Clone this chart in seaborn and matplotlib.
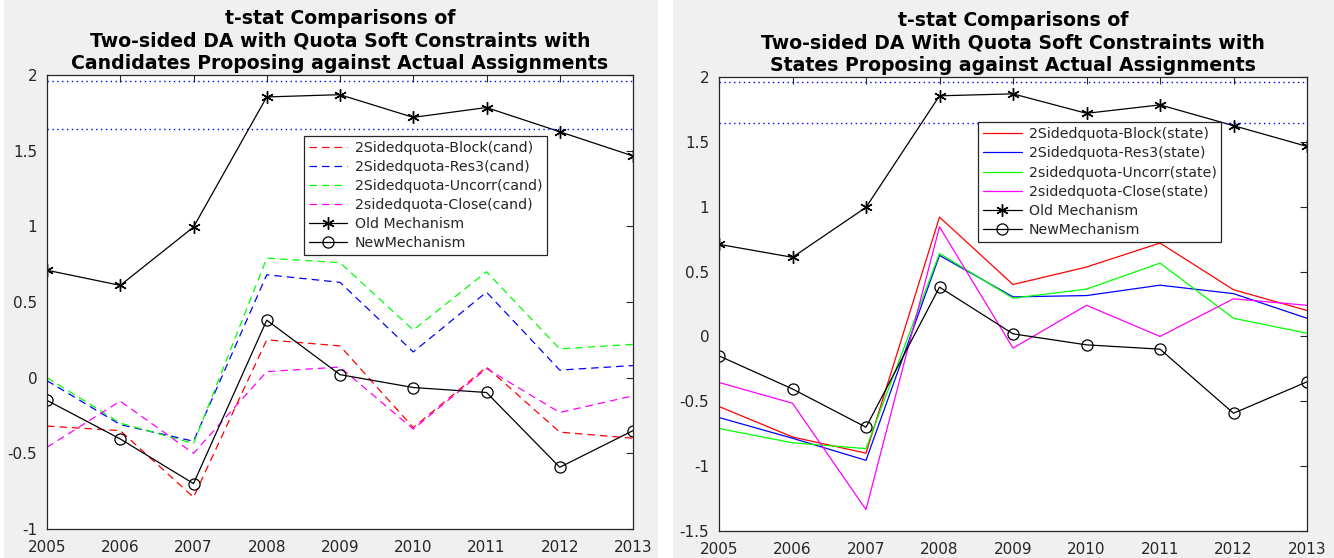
import matplotlib
matplotlib.use('Agg')
import matplotlib.pyplot as plt
from matplotlib.patches import Rectangle
from matplotlib.ticker import FormatStrFormatter
import seaborn as sns

# %% data
years = [2005, 2006, 2007, 2008, 2009, 2010, 2011, 2012, 2013]
old_mech = [0.71, 0.61, 0.995, 1.855, 1.87, 1.72, 1.785, 1.625, 1.465]
new_mech = [-0.15, -0.405, -0.70, 0.38, 0.02, -0.065, -0.098, -0.592, -0.35]

cand_block = [-0.32, -0.35, -0.79, 0.25, 0.21, -0.33, 0.07, -0.36, -0.40]
cand_res3 = [-0.02, -0.31, -0.42, 0.68, 0.63, 0.17, 0.565, 0.05, 0.08]
cand_uncorr = [0.0, -0.30, -0.435, 0.79, 0.76, 0.315, 0.70, 0.19, 0.22]
cand_close = [-0.46, -0.155, -0.50, 0.04, 0.07, -0.34, 0.06, -0.23, -0.12]

state_block = [-0.54, -0.775, -0.90, 0.92, 0.40, 0.535, 0.72, 0.36, 0.20]
state_res3 = [-0.625, -0.785, -0.955, 0.625, 0.305, 0.315, 0.395, 0.33, 0.14]
state_uncorr = [-0.71, -0.82, -0.865, 0.64, 0.295, 0.365, 0.565, 0.14, 0.025]
state_close = [-0.355, -0.515, -1.335, 0.845, -0.09, 0.24, 0.0, 0.29, 0.24]

crit_vals = [1.96, 1.645]

cand_labels = ['2Sidedquota-Block(cand)', '2Sidedquota-Res3(cand)',
               '2Sidedquota-Uncorr(cand)', '2sidedquota-Close(cand)']
state_labels = ['2Sidedquota-Block(state)', '2Sidedquota-Res3(state)',
                '2sidedquota-Uncorr(state)', '2sidedquota-Close(state)']
title_left = ('t-stat Comparisons of\nTwo-sided DA with Quota Soft Constraints with\n'
              'Candidates Proposing against Actual Assignments')
title_right = ('t-stat Comparisons of\nTwo-sided DA With Quota Soft Constraints with\n'
               'States Proposing against Actual Assignments')

# %% style
sns.set_style('white')
plt.rcParams['font.family'] = ['DejaVu Sans']
plt.rcParams['axes.unicode_minus'] = False
dark = '#262626'
colors = ['#ff0000', '#0000ff', '#00ff00', '#ff00ff']

fig = plt.figure(figsize=(13.34, 5.58), dpi=100, facecolor='white')
# gray matlab figure backgrounds
fig.patches.append(Rectangle((4 / 1334, 1 / 558), 653 / 1334, 557 / 558,
                             transform=fig.transFigure, color='#f0f0f0', zorder=-10))
fig.patches.append(Rectangle((673 / 1334, 1 / 558), 661 / 1334, 557 / 558,
                             transform=fig.transFigure, color='#f0f0f0', zorder=-10))

ax1 = fig.add_axes([47 / 1334, 1 - 529 / 558, 586 / 1334, 454 / 558])
ax2 = fig.add_axes([719 / 1334, 1 - 531 / 558, 588 / 1334, 454 / 558])


def draw_panel(ax, series, labels, dashed, ylim, title, leg_anchor):
    ls = (0, (6, 4)) if dashed else '-'
    for vals, lab, col in zip(series, labels, colors):
        sns.lineplot(x=years, y=vals, ax=ax, color=col, lw=0.9, ls=ls, label=lab)
    sns.lineplot(x=years, y=old_mech, ax=ax, color='black', lw=0.9,
                 marker=(6, 2, 0), ms=9, mec='black', mew=1.0, label='Old Mechanism')
    sns.lineplot(x=years, y=new_mech, ax=ax, color='black', lw=0.9,
                 marker='o', ms=8, mfc='none', mec='black', mew=0.9, label='NewMechanism')
    for cv in crit_vals:
        ax.axhline(cv, color='#0000ff', ls=(0, (1, 2.5)), lw=1.0)
    ax.set_xlim(years[0], years[-1])
    ax.set_ylim(*ylim)
    ax.set_xticks(years)
    ax.yaxis.set_major_formatter(FormatStrFormatter('%g'))
    ax.set_facecolor('white')
    ax.tick_params(direction='in', length=5, top=True, right=True, color=dark,
                   labelcolor=dark, labelsize=11, width=0.8)
    ax.tick_params(axis='y', pad=7)
    ax.tick_params(axis='x', pad=8)
    for sp in ax.spines.values():
        sp.set_color(dark)
        sp.set_linewidth(0.9)
    ax.set_title(title, fontsize=13.6, fontweight='bold', color='black',
                 linespacing=1.25, pad=4)
    leg = ax.legend(loc='upper left', bbox_to_anchor=leg_anchor, fontsize=10.2,
                    frameon=True, fancybox=False, edgecolor=dark, framealpha=1,
                    handlelength=2.7, handletextpad=0.5, labelspacing=0.36,
                    borderpad=0.35, borderaxespad=0)
    leg.get_frame().set_linewidth(0.9)


draw_panel(ax1, [cand_block, cand_res3, cand_uncorr, cand_close], cand_labels,
           True, (-1, 2), title_left, (0.439, 0.866))
draw_panel(ax2, [state_block, state_res3, state_uncorr, state_close], state_labels,
           False, (-1.5, 2), title_right, (0.441, 0.90))

fig.savefig('out.png', dpi=100, facecolor='white')
